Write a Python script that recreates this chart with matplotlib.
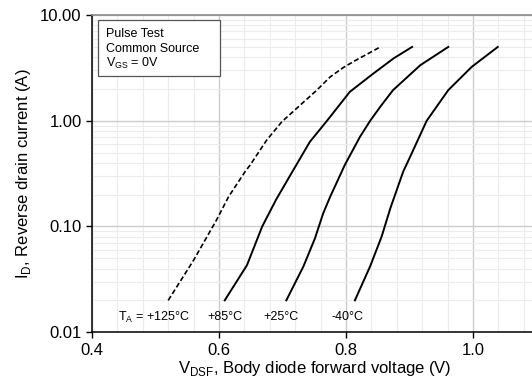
import matplotlib.pyplot as plt
import numpy as np
from matplotlib.patches import Rectangle
from matplotlib.ticker import FixedLocator, LogLocator, MultipleLocator, FuncFormatter

plt.rcParams['font.family'] = ['Liberation Sans', 'DejaVu Sans']

# curves (V in volts, I in amps)
v_125 = [0.520, 0.560, 0.596, 0.615, 0.641, 0.649, 0.675, 0.699, 0.728, 0.754, 0.775, 0.796, 0.814, 0.854]
i_125 = [0.020, 0.048, 0.115, 0.191, 0.330, 0.381, 0.656, 0.980, 1.41, 1.95, 2.60, 3.20, 3.70, 5.00]

v_85 = [0.609, 0.644, 0.668, 0.690, 0.717, 0.743, 0.770, 0.806, 0.843, 0.875, 0.904]
i_85 = [0.020, 0.043, 0.100, 0.180, 0.342, 0.632, 1.00, 1.88, 2.80, 3.90, 5.00]

v_25 = [0.706, 0.733, 0.751, 0.764, 0.775, 0.798, 0.822, 0.838, 0.854, 0.874, 0.917, 0.961]
i_25 = [0.020, 0.042, 0.077, 0.133, 0.191, 0.381, 0.706, 1.00, 1.36, 1.95, 3.36, 5.00]

v_m40 = [0.814, 0.838, 0.856, 0.870, 0.890, 0.901, 0.927, 0.961, 0.998, 1.039]
i_m40 = [0.020, 0.042, 0.080, 0.150, 0.330, 0.457, 1.00, 1.95, 3.24, 5.00]

temp_labels = [r'T$_\mathregular{A}$ = +125°C', '+85°C', '+25°C', '-40°C']
label_x = [0.498, 0.609, 0.698, 0.803]
y_ticks = [0.01, 0.1, 1, 10]
note_lines = ['Pulse Test', 'Common Source', r'V$_\mathregular{GS}$ = 0V']

fig = plt.figure(figsize=(5.32, 3.88), dpi=100)
ax = fig.add_axes([0.173, 0.144, 0.8355, 0.817])

ax.plot(v_125, i_125, color='black', lw=1.2, ls=(0, (3, 1.6)))
ax.plot(v_85, i_85, color='black', lw=1.4)
ax.plot(v_25, i_25, color='black', lw=1.4)
ax.plot(v_m40, i_m40, color='black', lw=1.4)

ax.set_yscale('log')
ax.set_xlim(0.4, 1.1)
ax.set_ylim(0.01, 10)
ax.xaxis.set_major_locator(FixedLocator([0.4, 0.6, 0.8, 1.0]))
ax.xaxis.set_minor_locator(MultipleLocator(0.04))
ax.yaxis.set_major_locator(FixedLocator(y_ticks))
ax.yaxis.set_minor_locator(LogLocator(base=10, subs=np.arange(2, 10)))
ax.yaxis.set_major_formatter(FuncFormatter(lambda v, p: f'{v:.2f}'))
ax.xaxis.set_major_formatter(FuncFormatter(lambda v, p: f'{v:.1f}'))

ax.grid(which='major', color='#cccccc', lw=1.0)
ax.grid(which='minor', color='#ececec', lw=0.8)
ax.set_axisbelow(True)

ax.tick_params(which='major', direction='out', length=4, width=1, labelsize=12, colors='black')
ax.tick_params(which='minor', length=0)

for s in ['left', 'bottom']:
    ax.spines[s].set_color('black')
    ax.spines[s].set_linewidth(1.1)
ax.spines['top'].set_color('#8c8c8c')
ax.spines['top'].set_linewidth(1.2)
ax.spines['right'].set_visible(False)

ax.set_xlabel(r'V$_\mathregular{DSF}$, Body diode forward voltage (V)', fontsize=12, labelpad=1)
ax.set_ylabel(r'I$_\mathregular{D}$, Reverse drain current (A)', fontsize=12, labelpad=5)

for lbl, xv in zip(temp_labels, label_x):
    ax.text(xv, 0.0139, lbl, fontsize=9, ha='center', va='center')

# note box
ax.add_patch(Rectangle((0.0135, 0.808), 0.2745, 0.176, transform=ax.transAxes,
                       fc='white', ec='#555555', lw=0.9, zorder=5))
for k, line in enumerate(note_lines):
    ax.text(0.031, 0.94 - k * 0.0465, line, transform=ax.transAxes,
            fontsize=9, ha='left', va='center', zorder=6)

fig.savefig('out.png', dpi=100)
